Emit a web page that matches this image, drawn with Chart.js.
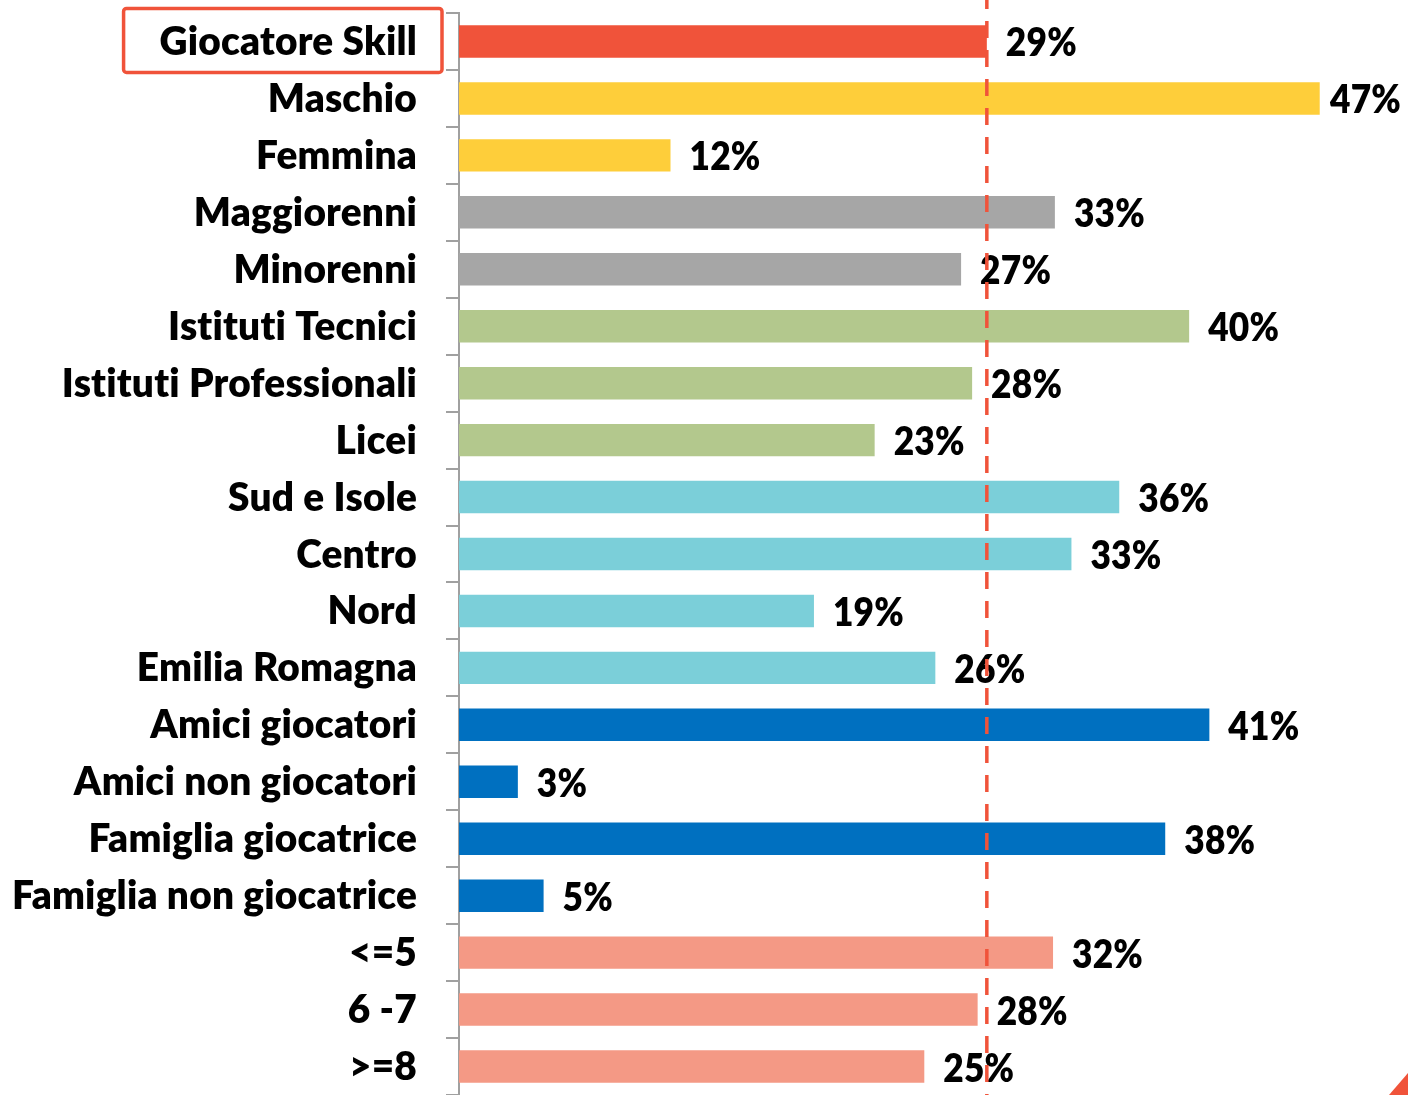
<!DOCTYPE html>
<html>
<head>
<meta charset="utf-8">
<script src="https://cdn.jsdelivr.net/npm/chart.js@4/dist/chart.umd.min.js"></script>
<style>
  html, body { margin: 0; padding: 0; background: #ffffff; }
  #wrap { width: 1408px; height: 1095px; }
</style>
</head>
<body>
<div id="wrap"><canvas id="c" width="1408" height="1095"></canvas></div>
<script>
// ---- data ----
const categories = [
  'Giocatore Skill', 'Maschio', 'Femmina', 'Maggiorenni', 'Minorenni',
  'Istituti Tecnici', 'Istituti Professionali', 'Licei', 'Sud e Isole', 'Centro',
  'Nord', 'Emilia Romagna', 'Amici giocatori', 'Amici non giocatori',
  'Famiglia giocatrice', 'Famiglia non giocatrice', '<=5', '6 -7', '>=8'
];
// bar lengths (%)
const values = [
  28.7, 46.8, 11.5, 32.4, 27.3, 39.7, 27.9, 22.6, 35.9, 33.3,
  19.3, 25.9, 40.8, 3.2, 38.4, 4.6, 32.3, 28.2, 25.3
];
// printed value labels
const valueLabels = [
  '29%', '47%', '12%', '33%', '27%', '40%', '28%', '23%', '36%', '33%',
  '19%', '26%', '41%', '3%', '38%', '5%', '32%', '28%', '25%'
];
const barColors = [
  '#F0533A', '#FECE3A', '#FECE3A', '#A6A6A6', '#A6A6A6',
  '#B3C88D', '#B3C88D', '#B3C88D', '#7BCFD9', '#7BCFD9',
  '#7BCFD9', '#7BCFD9', '#0070C0', '#0070C0', '#0070C0',
  '#0070C0', '#F49985', '#F49985', '#F49985'
];
const averageValue = 28.7;   // dashed reference line (Giocatore Skill)
const xMin = 0;
const xMax = 51.6;

// ---- font sizing ----
const FAMILY = "Lato, 'Open Sans', sans-serif";
const WEIGHT = '800';
const SPACING = '0.2px';
const mctx = document.createElement('canvas').getContext('2d');
mctx.font = WEIGHT + ' 40px ' + FAMILY;
mctx.letterSpacing = SPACING;
const fs = 40 * 405 / mctx.measureText('Famiglia non giocatrice').width;
const FONT = WEIGHT + ' ' + fs.toFixed(2) + 'px ' + FAMILY;
mctx.font = FONT;
const valScaleX = Math.min(1, 71 / mctx.measureText('29%').width);

const RED = '#F0533A';
const AXIS = '#A0A0A0';

const decorPlugin = {
  id: 'decor',
  beforeDraw(chart) {
    chart.ctx.letterSpacing = SPACING;
  },
  afterDatasetsDraw(chart) {
    const ctx = chart.ctx;
    const meta = chart.getDatasetMeta(0);
    ctx.save();
    ctx.font = FONT;
    ctx.letterSpacing = SPACING;
    ctx.fillStyle = '#000';
    ctx.textAlign = 'left';
    ctx.textBaseline = 'alphabetic';
    meta.data.forEach((bar, i) => {
      const txt = valueLabels[i];
      const w = ctx.measureText(txt).width * valScaleX;
      let x = bar.x + 19;
      if (x + w > chart.width - 7) x = chart.width - 7 - w;
      ctx.save();
      ctx.translate(x, bar.y + 15);
      ctx.scale(valScaleX, 1);
      ctx.fillText(txt, 0, 0);
      ctx.restore();
    });
    ctx.restore();
  },
  afterDraw(chart) {
    const ctx = chart.ctx;
    const xs = chart.scales.x;
    const ys = chart.scales.y;
    ctx.save();
    ctx.font = FONT;
    ctx.letterSpacing = SPACING;
    // red box around first category label
    const tw = ctx.measureText(categories[0]).width;
    const cy = ys.getPixelForValue(0);
    const labelRight = ys.right - 13 - 29;
    const left = labelRight - tw - 36;
    const right = ys.right - 17;
    ctx.strokeStyle = RED;
    ctx.lineWidth = 3.5;
    ctx.beginPath();
    ctx.roundRect(left, cy - 33, right - left, 64, 3);
    ctx.stroke();
    // dashed average line
    const ax = xs.getPixelForValue(averageValue);
    ctx.setLineDash([17, 12]);
    ctx.lineWidth = 3.5;
    ctx.beginPath();
    ctx.moveTo(ax, -8);
    ctx.lineTo(ax, chart.height);
    ctx.stroke();
    ctx.setLineDash([]);
    // corner decoration
    ctx.fillStyle = RED;
    ctx.beginPath();
    ctx.moveTo(chart.width - 19, chart.height);
    ctx.lineTo(chart.width, chart.height - 22);
    ctx.lineTo(chart.width, chart.height);
    ctx.closePath();
    ctx.fill();
    ctx.restore();
  }
};

new Chart(document.getElementById('c'), {
  type: 'bar',
  data: {
    labels: categories,
    datasets: [{
      data: values,
      backgroundColor: barColors,
      borderWidth: 0,
      barPercentage: 0.57,
      categoryPercentage: 1.0
    }]
  },
  options: {
    indexAxis: 'y',
    responsive: false,
    animation: false,
    devicePixelRatio: 1,
    layout: { padding: { top: 13, left: 0, right: 0, bottom: 0 } },
    plugins: {
      legend: { display: false },
      tooltip: { enabled: false }
    },
    scales: {
      x: {
        display: false,
        min: xMin,
        max: xMax
      },
      y: {
        afterFit(scale) {
          scale.width = 459;
          scale.paddingTop = 0;
          scale.paddingBottom = 0;
        },
        border: { display: true, color: AXIS, width: 2 },
        grid: {
          offset: true,
          drawOnChartArea: false,
          drawTicks: true,
          tickLength: 13,
          color: AXIS,
          lineWidth: 2
        },
        ticks: {
          color: '#000',
          font: { family: FAMILY, weight: WEIGHT, size: fs },
          padding: 29,
          labelOffset: 1,
          autoSkip: false
        }
      }
    }
  },
  plugins: [decorPlugin]
});
</script>
</body>
</html>
